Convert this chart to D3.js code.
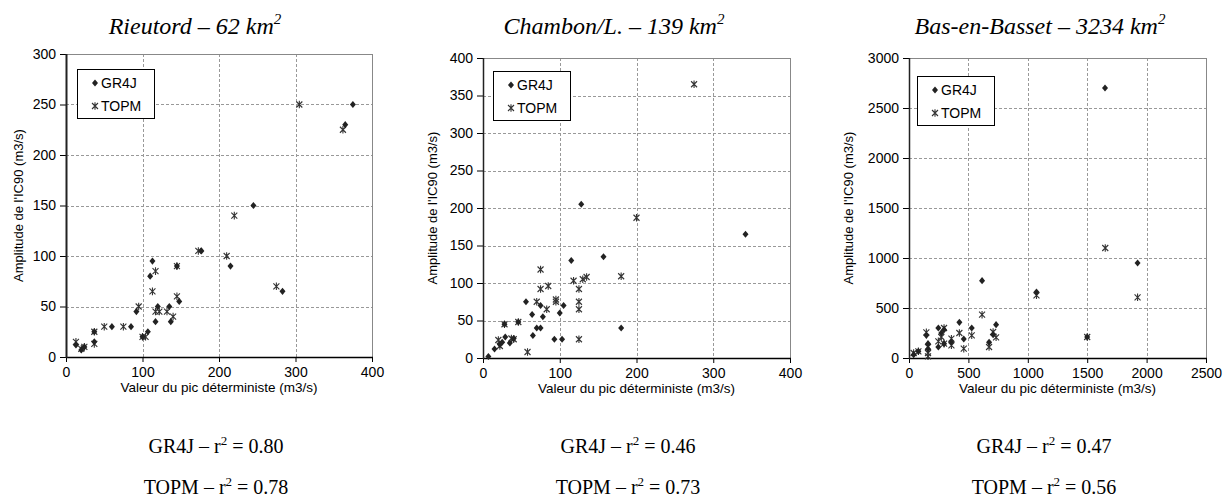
<!DOCTYPE html>
<html lang="fr">
<head>
  <meta charset="UTF-8">
  <title>IC90 amplitude vs peak</title>
</head>
<body>
<style>
  * { padding: 0; margin: 0; }
  body { background: #fff; }
  #app { width: 1230px; height: 500px; }
  .tick text { font-family: "Liberation Sans", Arial, sans-serif; font-size: 14px; fill: #000; }
  .grid line { stroke: #999; stroke-dasharray: 3,2; shape-rendering: crispEdges; }
</style>

<div id="app"></div>

<script src="https://cdn.jsdelivr.net/npm/d3@7/dist/d3.min.js"></script>

<script>
  // stations
  const stationNames = ["Rieutord", "Chambon/L.", "Bas-en-Basset"];
  const stationAreas = [62, 139, 3234];
  const r2Gr4j = ["0.80", "0.46", "0.47"];
  const r2Topm = ["0.78", "0.73", "0.56"];

  // axis domains / tick steps
  const xMax = [400, 400, 2500];
  const yMax = [300, 400, 3000];
  const xStep = [100, 100, 500];
  const yStep = [50, 50, 500];

  // Rieutord [peak, IC90 amplitude]
  const rieuGr4j = [[13, 12], [20, 7], [24, 10], [37, 15], [37, 25], [60, 30], [85, 30], [92, 45],
    [100, 20], [107, 25], [110, 80], [113, 95], [117, 35], [120, 50], [135, 50], [137, 35],
    [145, 90], [148, 55], [177, 105], [215, 90], [245, 150], [283, 65], [365, 230], [375, 250]];
  const rieuTopm = [[13, 15], [20, 8], [24, 10], [37, 25], [37, 13], [50, 30], [75, 30], [95, 50],
    [100, 20], [104, 20], [113, 65], [117, 85], [117, 45], [122, 45], [132, 45], [140, 40],
    [145, 90], [145, 60], [173, 105], [210, 100], [220, 140], [275, 70], [305, 250], [362, 225]];

  // Chambon/L.
  const chamGr4j = [[7, 2], [15, 12], [22, 18], [25, 21], [29, 28], [35, 20], [40, 26], [28, 45],
    [46, 48], [56, 75], [64, 58], [65, 30], [70, 40], [75, 40], [75, 70], [78, 55], [93, 25],
    [100, 60], [103, 25], [105, 70], [115, 130], [128, 205], [157, 135], [180, 40], [342, 165]];
  const chamTopm = [[20, 24], [22, 16], [28, 45], [37, 26], [40, 25], [46, 48], [58, 8], [70, 75],
    [75, 118], [75, 92], [83, 65], [85, 96], [95, 78], [95, 75], [118, 103], [125, 92], [125, 75],
    [125, 65], [125, 25], [130, 105], [135, 108], [180, 109], [200, 187], [275, 365]];

  // Bas-en-Basset
  const basGr4j = [[39, 33], [79, 67], [146, 227], [160, 90], [160, 143], [247, 300], [247, 110],
    [272, 250], [295, 283], [295, 143], [357, 160], [424, 357], [461, 190], [528, 300], [615, 773],
    [674, 157], [708, 233], [733, 333], [1073, 660], [1500, 210], [1924, 950], [1650, 2700]];
  const basTopm = [[39, 50], [79, 67], [146, 257], [160, 50], [160, 17], [160, 110], [247, 167],
    [272, 210], [295, 300], [295, 143], [357, 193], [357, 127], [424, 250], [461, 93], [528, 227],
    [615, 433], [674, 110], [708, 260], [733, 207], [1073, 627], [1500, 210], [1652, 1100], [1924, 607]];

  const gr4jSets = [rieuGr4j, chamGr4j, basGr4j];
  const topmSets = [rieuTopm, chamTopm, basTopm];

  // layout of each panel (pixels)
  const boxes = [
    {l: 66, r: 372, t: 54, b: 357, ylab: 18, tx: 195, bx: 216, leg: [77, 69], lw: 2},
    {l: 483, r: 790, t: 58, b: 358, ylab: 432, tx: 614, bx: 628, leg: [493, 71], lw: 1.5},
    {l: 909, r: 1206, t: 58, b: 358, ylab: 848, tx: 1040, bx: 1044, leg: [917, 76], lw: 1.5}
  ];

  const svg = d3.select("#app").append("svg").attr("width", 1230).attr("height", 500)
  const sans = '"Liberation Sans", Arial, sans-serif'
  const serif = '"Liberation Serif", "Times New Roman", serif'

  const diamond = "M0,-3.6L3,0L0,3.6L-3,0Z"
  const star = "M-3,-3L3,3M-3,3L3,-3M0,-3.8L0,3.8"

  function drawGr4j(g, x, y) {
    g.append("path").attr("d", diamond).attr("transform", "translate(" + x + "," + y + ")").attr("fill", "#222")
  }
  function drawTopm(g, x, y) {
    g.append("path").attr("d", star).attr("transform", "translate(" + x + "," + y + ")")
      .attr("fill", "none").attr("stroke", "#333").attr("stroke-width", 1.1)
  }

  boxes.forEach(function (p, i) {
    const g = svg.append("g")
    const scaleX = d3.scaleLinear().domain([0, xMax[i]]).range([p.l, p.r])
    const scaleY = d3.scaleLinear().domain([0, yMax[i]]).range([p.b, p.t])
    const xt = d3.range(0, xMax[i] + 1, xStep[i])
    const yt = d3.range(0, yMax[i] + 1, yStep[i])

    // grid
    const grid = g.append("g").classed("grid", true)
    grid.selectAll(".gx").data(xt.slice(1, -1)).enter().append("line")
      .attr("x1", d => Math.round(scaleX(d)) + 0.5).attr("x2", d => Math.round(scaleX(d)) + 0.5)
      .attr("y1", p.t).attr("y2", p.b)
    grid.selectAll(".gy").data(yt.slice(1, -1)).enter().append("line")
      .attr("y1", d => Math.round(scaleY(d)) + 0.5).attr("y2", d => Math.round(scaleY(d)) + 0.5)
      .attr("x1", p.l).attr("x2", p.r)

    // frame
    g.append("rect").attr("x", p.l + 0.5).attr("y", p.t + 0.5).attr("width", p.r - p.l).attr("height", p.b - p.t)
      .attr("fill", "none").attr("stroke", "#888").attr("shape-rendering", "crispEdges")

    // axes
    const ax = g.append("g").attr("transform", "translate(0," + p.b + ")")
      .call(d3.axisBottom(scaleX).tickValues(xt).tickFormat(d3.format("d")).tickSize(5).tickPadding(5))
    const ay = g.append("g").attr("transform", "translate(" + p.l + ",0)")
      .call(d3.axisLeft(scaleY).tickValues(yt).tickFormat(d3.format("d")).tickSize(6).tickPadding(4))
    ax.select(".domain").remove()
    ay.select(".domain").remove()
    g.append("line").attr("x1", p.l).attr("x2", p.r + 1).attr("y1", p.b + 0.5).attr("y2", p.b + 0.5)
      .attr("stroke", "#000").attr("stroke-width", 1.3)
    g.append("line").attr("x1", p.l + 0.5).attr("x2", p.l + 0.5).attr("y1", p.t).attr("y2", p.b + 1)
      .attr("stroke", "#222").attr("stroke-width", p.lw)
    ax.selectAll(".tick line").attr("stroke", "#000")
    ay.selectAll(".tick line").attr("stroke", "#000")

    // axis titles
    g.append("text").text("Valeur du pic déterministe (m3/s)")
      .attr("x", (p.l + p.r) / 2).attr("y", p.b + 35).attr("text-anchor", "middle")
      .attr("font-family", sans).attr("font-size", 13.5)
    g.append("text").text("Amplitude de l'IC90 (m3/s)")
      .attr("transform", "translate(" + p.ylab + "," + (p.t + p.b) / 2 + ") rotate(-90)")
      .attr("text-anchor", "middle").attr("dy", "0.35em")
      .attr("font-family", sans).attr("font-size", 13)

    // points
    const pts = g.append("g")
    topmSets[i].forEach(d => drawTopm(pts, scaleX(d[0]), scaleY(d[1])))
    gr4jSets[i].forEach(d => drawGr4j(pts, scaleX(d[0]), scaleY(d[1])))

    // legend
    const lg = g.append("g").attr("transform", "translate(" + p.leg[0] + "," + p.leg[1] + ")")
    lg.append("rect").attr("x", 0.5).attr("y", 0.5).attr("width", 77).attr("height", 49)
      .attr("fill", "#fff").attr("stroke", "#000")
    drawGr4j(lg, 18, 14)
    drawTopm(lg, 18, 37)
    lg.append("text").text("GR4J").attr("x", 24).attr("y", 14).attr("dy", "0.35em")
      .attr("font-family", sans).attr("font-size", 14)
    lg.append("text").text("TOPM").attr("x", 24).attr("y", 37).attr("dy", "0.35em")
      .attr("font-family", sans).attr("font-size", 14)

    // title
    const t = svg.append("text").attr("x", p.tx).attr("y", 34).attr("text-anchor", "middle")
      .attr("font-family", serif).attr("font-style", "italic").attr("font-size", 24)
    t.append("tspan").text(stationNames[i] + " – " + stationAreas[i] + " km")
    t.append("tspan").text("2").attr("font-size", 15).attr("dy", -10)

    // r2 lines
    const lines = [["GR4J", r2Gr4j[i], 453], ["TOPM", r2Topm[i], 494]]
    lines.forEach(function (l) {
      const tt = svg.append("text").attr("x", p.bx).attr("y", l[2]).attr("text-anchor", "middle")
        .attr("font-family", serif).attr("font-size", 20)
      tt.append("tspan").text(l[0] + " – r")
      tt.append("tspan").text("2").attr("font-size", 13).attr("dy", -8)
      tt.append("tspan").text(" = " + l[1]).attr("dy", 8)
    })
  })
</script>
</body>
</html>
